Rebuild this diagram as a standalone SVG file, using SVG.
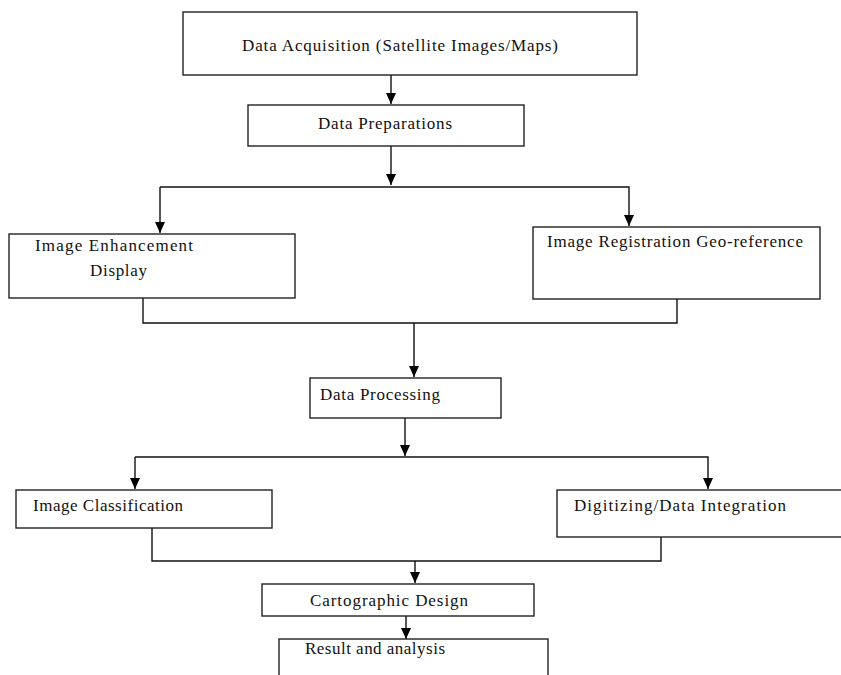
<svg xmlns="http://www.w3.org/2000/svg" width="841" height="675" viewBox="0 0 841 675">
<defs>
<marker id="ah" markerUnits="userSpaceOnUse" markerWidth="12" markerHeight="12" refX="11" refY="5" orient="auto">
<path d="M0,0 L11,5 L0,10 Z" fill="#000"/>
</marker>
<style>
.box{fill:#fff;stroke:#222;stroke-width:1.4}
.t{font-family:"Liberation Serif","Times New Roman",serif;font-size:17px;fill:#111}
.c{fill:none;stroke:#111;stroke-width:1.4}
</style>
</defs>
<rect width="841" height="675" fill="#fff"/>
<g id="connectors">
<path class="c" d="M391,75 V104" marker-end="url(#ah)"/>
<path class="c" d="M391,146 V185" marker-end="url(#ah)"/>
<path class="c" d="M160,187 H629 V226" marker-end="url(#ah)"/>
<path class="c" d="M160,187 V233" marker-end="url(#ah)"/>
<path class="c" d="M143,298 V323 H677 V299"/>
<path class="c" d="M414,323 V377" marker-end="url(#ah)"/>
<path class="c" d="M405,418 V456" marker-end="url(#ah)"/>
<path class="c" d="M135,457 H708 V489" marker-end="url(#ah)"/>
<path class="c" d="M135,457 V489" marker-end="url(#ah)"/>
<path class="c" d="M152,528 V561 H661 V537"/>
<path class="c" d="M415,561 V583" marker-end="url(#ah)"/>
<path class="c" d="M406,616 V639" marker-end="url(#ah)"/>
</g>
<g id="n1"><rect class="box" x="183" y="12" width="454" height="63"/><text class="t" x="242" y="51" textLength="316" lengthAdjust="spacing">Data Acquisition (Satellite Images/Maps)</text></g>
<g id="n2"><rect class="box" x="248" y="105" width="276" height="41"/><text class="t" x="318" y="129" textLength="134" lengthAdjust="spacing">Data Preparations</text></g>
<g id="n3"><rect class="box" x="9" y="234" width="286" height="64"/><text class="t" x="35" y="251" textLength="158" lengthAdjust="spacing">Image Enhancement</text><text class="t" x="90" y="276" textLength="57" lengthAdjust="spacing">Display</text></g>
<g id="n4"><rect class="box" x="533" y="227" width="287" height="72"/><text class="t" x="547" y="247" textLength="256" lengthAdjust="spacing">Image Registration Geo-reference</text></g>
<g id="n5"><rect class="box" x="310" y="378" width="191" height="40"/><text class="t" x="320" y="400" textLength="120" lengthAdjust="spacing">Data Processing</text></g>
<g id="n6"><rect class="box" x="16" y="490" width="256" height="38"/><text class="t" x="33" y="511" textLength="150" lengthAdjust="spacing">Image Classification</text></g>
<g id="n7"><rect class="box" x="557" y="490" width="290" height="47"/><text class="t" x="574" y="511" textLength="212" lengthAdjust="spacing">Digitizing/Data Integration</text></g>
<g id="n8"><rect class="box" x="262" y="584" width="272" height="32"/><text class="t" x="310" y="606" textLength="158" lengthAdjust="spacing">Cartographic Design</text></g>
<g id="n9"><rect class="box" x="279" y="639" width="269" height="50"/><text class="t" x="305" y="654" textLength="140" lengthAdjust="spacing">Result and analysis</text></g>
</svg>
